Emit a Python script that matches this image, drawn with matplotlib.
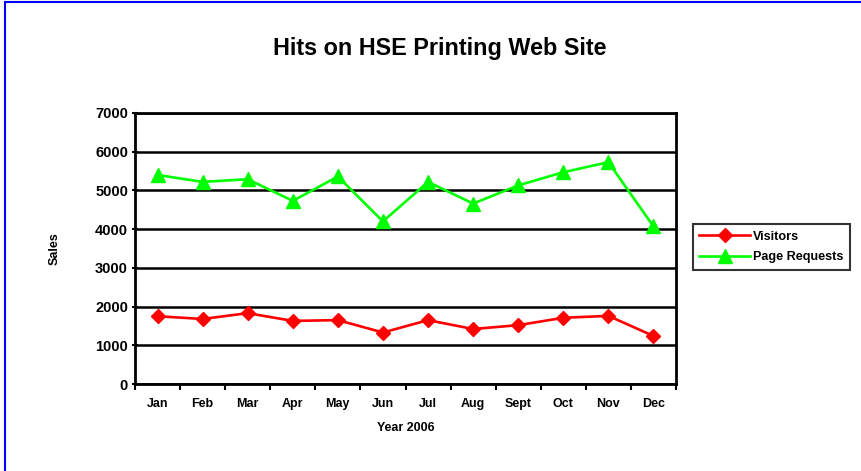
import matplotlib
matplotlib.use("Agg")
import matplotlib.pyplot as plt
from matplotlib.lines import Line2D

months = ["Jan", "Feb", "Mar", "Apr", "May", "Jun", "Jul", "Aug", "Sept", "Oct", "Nov", "Dec"]
visitors = [1750, 1680, 1830, 1630, 1650, 1330, 1650, 1420, 1520, 1710, 1760, 1240]
page_requests = [5400, 5220, 5290, 4730, 5360, 4200, 5220, 4660, 5130, 5470, 5730, 4070]
y_ticks = [0, 1000, 2000, 3000, 4000, 5000, 6000, 7000]

plt.rcParams["font.family"] = "Liberation Sans"
plt.rcParams["font.weight"] = "bold"

fig = plt.figure(figsize=(8.61, 4.71), dpi=100)
ax = fig.add_axes([135 / 861, 1 - 384 / 471, (676 - 135) / 861, (384 - 113) / 471])

x = list(range(len(months)))
ax.plot(x, visitors, color="#ff0000", lw=1.9, marker="D", ms=7, label="Visitors")
ax.plot(x, page_requests, color="#00ff00", lw=1.9, marker="^", ms=10, label="Page Requests")

ax.set_xlim(-0.5, len(months) - 0.5)
ax.set_ylim(0, 7000)
ax.set_yticks(y_ticks)
ax.set_yticklabels([str(v) for v in y_ticks], fontsize=10.5, fontweight="bold")
ax.set_xticks(x)
ax.set_xticklabels(months, fontsize=9, fontweight="bold")
ax.tick_params(axis="x", which="major", length=0, pad=10)
ax.set_xticks([i - 0.5 for i in range(len(months) + 1)], minor=True)
ax.tick_params(axis="x", which="minor", length=4, width=1.5, direction="out")
ax.tick_params(axis="y", length=4, width=1.5, direction="inout", pad=3)
ax.yaxis.grid(True, color="black", lw=1.8)
ax.set_axisbelow(True)
for s in ax.spines.values():
    s.set_linewidth(2)

# title sits centred on the whole chart area, not the plot
ax.set_title("Hits on HSE Printing Web Site", fontsize=16.8, fontweight="bold", pad=41.5,
             x=(440 - 135) / 541)
ax.set_xlabel("Year 2006", fontsize=9, fontweight="bold", labelpad=9)
ax.set_ylabel("Sales", fontsize=9, fontweight="bold", labelpad=25)

leg = fig.legend(handles=ax.get_lines(), loc="center left", bbox_to_anchor=(693 / 861, 1 - 247 / 471),
                 fontsize=9.1, frameon=True, fancybox=False, edgecolor="black",
                 handlelength=4.0, borderpad=0.5, labelspacing=0.7, handletextpad=0.25,
                 borderaxespad=0)
leg.get_frame().set_linewidth(1.5)
for t in leg.get_texts():
    t.set_fontweight("bold")

# blue frame around the chart area (top and left edges visible)
fig.add_artist(Line2D([5 / 861, 1], [1 - 2 / 471, 1 - 2 / 471], color="#0000ff", lw=1.5))
fig.add_artist(Line2D([5 / 861, 5 / 861], [0, 1 - 2 / 471], color="#0000ff", lw=1.5))

fig.savefig("out.png", dpi=100)
